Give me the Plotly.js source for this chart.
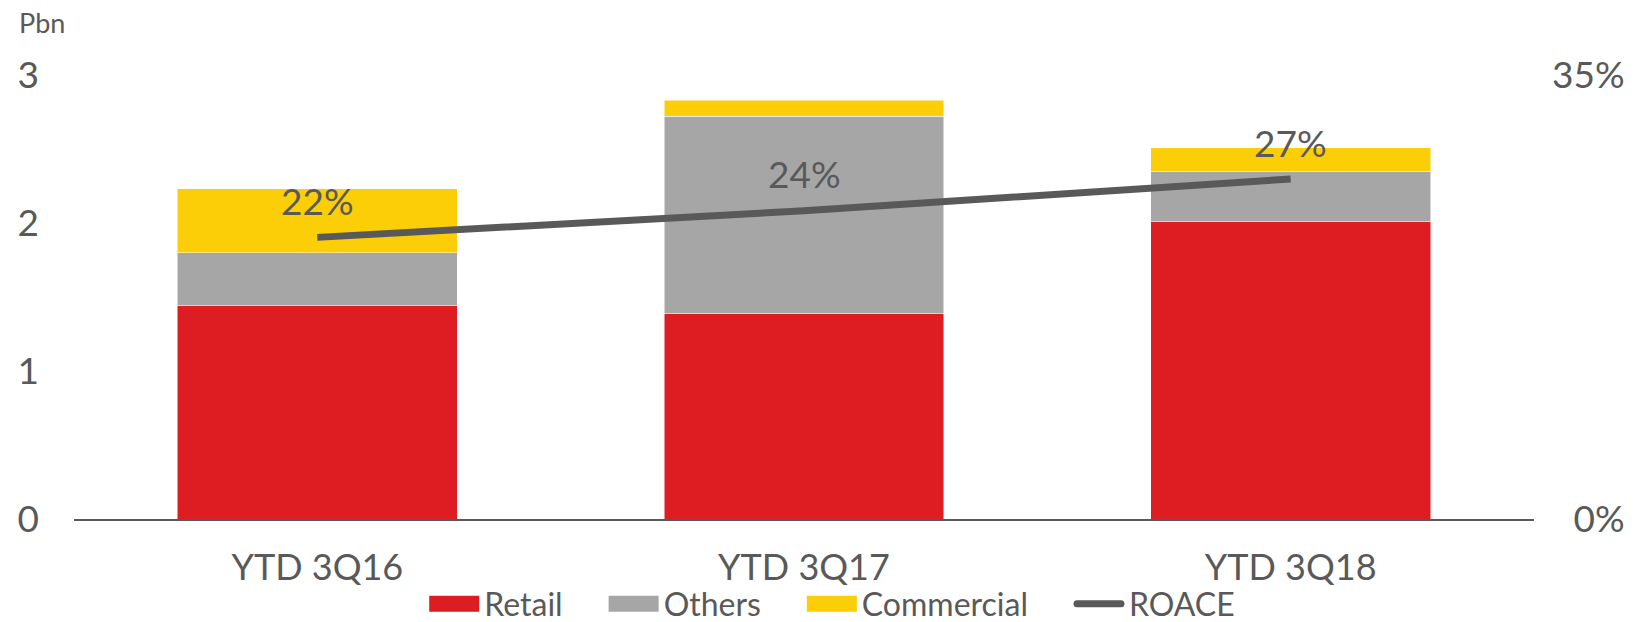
<!DOCTYPE html>
<html>
<head>
<meta charset="utf-8">
<script src="https://cdn.plot.ly/plotly-3.0.1.min.js"></script>
<style>html,body{margin:0;padding:0;background:#fff;}</style>
</head>
<body>
<div id="chart" style="width:1642px;height:622px;"></div>
<script>
const categories = ['YTD 3Q16', 'YTD 3Q17', 'YTD 3Q18'];
const retail = [1.44, 1.39, 2.01];
const others = [0.36, 1.33, 0.34];
const commercial = [0.43, 0.11, 0.16];
const roace = [22.2, 24.3, 26.8];
const roaceLabels = ['22%', '24%', '27%'];
const rightTickVals = [0, 35];
const rightTickText = ['0%', '35%'];

const FONT = 'Lato, "Open Sans", sans-serif';
const GREY = '#595959';

const traces = [
  {type: 'bar', name: 'Retail', x: categories, y: retail,
   marker: {color: '#DD1D21', line: {color: '#ffffff', width: 0.5}}, hoverinfo: 'skip'},
  {type: 'bar', name: 'Others', x: categories, y: others,
   marker: {color: '#A6A6A6', line: {color: '#ffffff', width: 0.5}}, hoverinfo: 'skip'},
  {type: 'bar', name: 'Commercial', x: categories, y: commercial,
   marker: {color: '#FBCE07', line: {color: '#ffffff', width: 0.5}}, hoverinfo: 'skip'},
  {type: 'scatter', mode: 'lines', name: 'ROACE', x: categories, y: roace, yaxis: 'y2',
   line: {color: GREY, width: 7, shape: 'spline'}, hoverinfo: 'skip'}
];

const annotations = categories.map((c, i) => ({
  x: c, y: roace[i], xref: 'x', yref: 'y2', yshift: 37,
  text: roaceLabels[i], showarrow: false,
  font: {family: FONT, size: 37, color: GREY}
}));
annotations.push({
  text: 'Pbn', xref: 'paper', yref: 'paper', x: -0.039, y: 1.119,
  xanchor: 'left', yanchor: 'middle', showarrow: false,
  font: {family: FONT, size: 27, color: GREY}
});

const layout = {
  width: 1642, height: 622,
  margin: {l: 74, r: 108, t: 75, b: 103},
  paper_bgcolor: '#ffffff', plot_bgcolor: '#ffffff',
  font: {family: FONT, color: GREY},
  barmode: 'stack', bargap: 0.425,
  showlegend: true,
  legend: {orientation: 'h', x: 0.507, xanchor: 'center',
           yref: 'container', y: 0.029, yanchor: 'middle',
           bgcolor: 'rgba(0,0,0,0)',
           font: {family: FONT, size: 32, color: GREY}, traceorder: 'normal',
           itemwidth: 86, itemclick: false, itemdoubleclick: false},
  xaxis: {showline: true, linecolor: GREY, linewidth: 2, ticks: '', showgrid: false,
          zeroline: false, tickfont: {family: FONT, size: 36, color: GREY},
          ticklabelstandoff: 16, fixedrange: true},
  yaxis: {range: [0, 3], dtick: 1, showgrid: false, zeroline: false, showline: false,
          ticks: '', tickfont: {family: FONT, size: 37, color: GREY},
          ticklabelstandoff: 34, fixedrange: true},
  yaxis2: {range: [0, 35], overlaying: 'y', side: 'right',
           tickmode: 'array', tickvals: rightTickVals, ticktext: rightTickText,
           showgrid: false, zeroline: false, showline: false, ticks: '',
           tickfont: {family: FONT, size: 37, color: GREY}, ticklabelstandoff: 17,
           fixedrange: true},
  annotations: annotations
};

function restyleLegendSymbols(gd) {
  const SW = 50, GAP = 5;
  gd.querySelectorAll('.legend g.traces').forEach(item => {
    const text = item.querySelector('text.legendtext');
    if (!text) return;
    const tx = parseFloat(text.getAttribute('x')) || 0;
    const tCTM = text.getCTM();
    item.querySelectorAll('g.legendpoints path, g.legendlines path').forEach(p => {
      const pCTM = p.getCTM();
      const right = tx + (tCTM.e - pCTM.e) - GAP;
      const left = right - SW;
      if (p.closest('g.legendlines')) {
        p.setAttribute('d', 'M' + (left + 3) + ',0H' + (right - 3));
        p.style.strokeLinecap = 'round';
      } else if (p.getAttribute('d')) {
        p.setAttribute('d', 'M' + left + ',8H' + right + 'V-8H' + left + 'Z');
        p.style.strokeWidth = '0px';
      }
    });
  });
}

function rightAlignY2Ticks(gd) {
  const texts = Array.from(gd.querySelectorAll('g.y2tick text'));
  if (!texts.length) return;
  const widths = texts.map(t => t.getBBox().width);
  const maxW = Math.max.apply(null, widths);
  texts.forEach((t, i) => {
    const x = parseFloat(t.getAttribute('x')) || 0;
    t.setAttribute('x', x + (maxW - widths[i]));
  });
}

Plotly.newPlot('chart', traces, layout, {displayModeBar: false, staticPlot: true}).then(gd => {
  restyleLegendSymbols(gd);
  rightAlignY2Ticks(gd);
});
</script>
</body>
</html>
